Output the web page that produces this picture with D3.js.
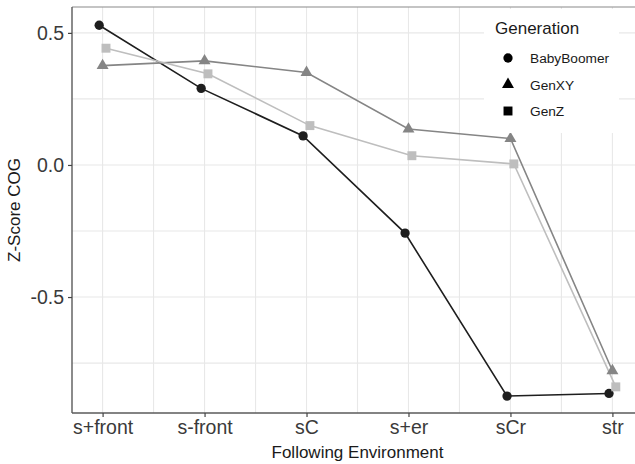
<!DOCTYPE html>
<html>
<head>
<meta charset="utf-8">
<script src="https://cdn.jsdelivr.net/npm/d3@7"></script>
<style>
body { margin: 0; background: #fff; }
svg { display: block; font-family: "Liberation Sans", Arial, sans-serif; }
</style>
</head>
<body>
<svg id="chart" width="635" height="464"></svg>
<script>
// data
var environments = ["s+front", "s-front", "sC", "s+er", "sCr", "str"];
var generations = ["BabyBoomer", "GenXY", "GenZ"];
var babyBoomer = [0.529, 0.290, 0.110, -0.258, -0.875, -0.865];
var genXY = [0.376, 0.394, 0.350, 0.136, 0.100, -0.779];
var genZ = [0.442, 0.345, 0.149, 0.035, 0.004, -0.840];
var yTicks = [-0.5, 0.0, 0.5];
var yMinor = [-0.75, -0.25, 0.25];

function draw()
{
	var series = [
		{name: generations[0], values: babyBoomer, color: "#1e1e1e", shape: d3.symbolCircle, size: 68, dodge: -3.4},
		{name: generations[1], values: genXY, color: "#858585", shape: d3.symbolTriangle, size: 62, dodge: 0},
		{name: generations[2], values: genZ, color: "#bebebe", shape: d3.symbolSquare, size: 80, dodge: 3.4}
	];

	var svg = d3.select("#chart");
	var pLeft = 72, pRight = 643, pTop = 7, pBottom = 413;

	var x = d3.scalePoint().domain(environments).range([pLeft, pRight]).padding(0.3);
	var y = d3.scaleLinear().domain([-0.939, 0.598]).range([pBottom, pTop]);

	// grid
	var grid = svg.append("g");
	grid.selectAll(".gy").data(yTicks.concat(yMinor)).enter().append("line")
		.attr("x1", pLeft).attr("x2", pRight)
		.attr("y1", d => y(d)).attr("y2", d => y(d))
		.style("stroke", "#e8e8e8").style("stroke-width", 1.1);
	var step = x.step();
	var xGrid = [];
	environments.forEach(e => { xGrid.push(x(e)); xGrid.push(x(e) + step / 2); });
	grid.selectAll(".gx").data(xGrid.filter(v => v < pRight)).enter().append("line")
		.attr("x1", d => d).attr("x2", d => d)
		.attr("y1", pTop).attr("y2", pBottom)
		.style("stroke", "#e8e8e8").style("stroke-width", 1.1);

	// lines then points
	series.forEach(s => {
		svg.append("path")
			.datum(s.values)
			.attr("d", d3.line().x((d, i) => x(environments[i]) + s.dodge).y(d => y(d)))
			.style("fill", "none")
			.style("stroke", s.color)
			.style("stroke-width", 1.6);
	});
	series.forEach(s => {
		svg.selectAll(null).data(s.values).enter().append("path")
			.attr("d", d3.symbol().type(s.shape).size(s.size))
			.attr("transform", (d, i) => "translate(" + (x(environments[i]) + s.dodge) + "," + y(d) + ")")
			.style("fill", s.color);
	});

	// legend
	var leg = svg.append("g");
	leg.append("rect").attr("x", 484).attr("y", 9).attr("width", 135).attr("height", 124).style("fill", "#fff");
	leg.append("text").attr("x", 495).attr("y", 34).style("font-size", "17px").style("fill", "#1a1a1a").text("Generation");
	series.forEach((s, i) => {
		var cy = 58 + i * 26.5;
		leg.append("path")
			.attr("d", d3.symbol().type(s.shape).size(s.size))
			.attr("transform", "translate(508," + cy + ")")
			.style("fill", "#000");
		leg.append("text").attr("x", 530).attr("y", cy + 5)
			.style("font-size", "13.7px").style("fill", "#1a1a1a").text(s.name);
	});

	// panel top border
	svg.append("line").attr("x1", pLeft).attr("x2", pRight).attr("y1", pTop).attr("y2", pTop)
		.style("stroke", "#8a8a8a").style("stroke-width", 1.2);

	// axes
	var xAxis = svg.append("g").attr("transform", "translate(0," + pBottom + ")")
		.call(d3.axisBottom(x).tickSize(4).tickPadding(3).tickSizeOuter(0));
	var yAxis = svg.append("g").attr("transform", "translate(" + pLeft + ",0)")
		.call(d3.axisLeft(y).tickValues(yTicks).tickFormat(d => d.toFixed(1)).tickSize(4).tickPadding(4).tickSizeOuter(0));
	[xAxis, yAxis].forEach(a => {
		a.select(".domain").style("stroke", "#5a5a5a").style("stroke-width", 1.4);
		a.selectAll(".tick line").style("stroke", "#444").style("stroke-width", 1.2);
		a.selectAll(".tick text").style("font-size", "19.5px").style("fill", "#3a3a3a")
			.style("font-family", "'Liberation Sans', Arial, sans-serif");
	});
	yAxis.select(".domain").attr("d", "M0," + pTop + "V" + pBottom);
	xAxis.select(".domain").attr("d", "M" + pLeft + ",0H" + pRight);

	// titles
	svg.append("text").attr("x", (pLeft + pRight) / 2).attr("y", 458)
		.attr("text-anchor", "middle").style("font-size", "17px").style("fill", "#1a1a1a")
		.text("Following Environment");
	svg.append("text").attr("transform", "translate(20," + (pTop + pBottom) / 2 + ") rotate(-90)")
		.attr("text-anchor", "middle").style("font-size", "17px").style("fill", "#1a1a1a")
		.text("Z-Score COG");
}
draw();
</script>
</body>
</html>
